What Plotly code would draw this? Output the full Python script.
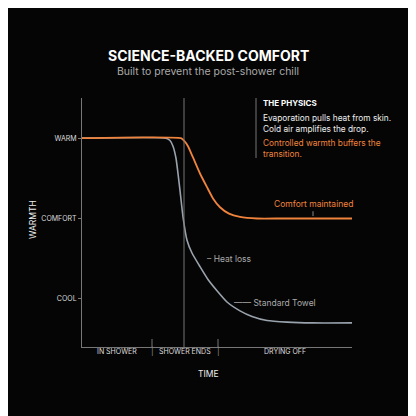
import plotly.graph_objects as go

towel_x = [0, 84, 88, 91, 94, 96, 98, 101, 105, 110, 118, 126, 135, 145, 158, 170, 185, 205, 230, 270]
towel_y = [3, 3, 2.97, 2.9, 2.75, 2.56, 2.35, 2.02, 1.73, 1.57, 1.40, 1.24, 1.1, 0.96, 0.85, 0.78, 0.73, 0.71, 0.7, 0.7]
warm_x = [0, 99, 102, 106, 111, 118, 125, 131, 138, 147, 158, 175, 200, 270]
warm_y = [3, 3, 2.97, 2.9, 2.76, 2.56, 2.39, 2.25, 2.14, 2.06, 2.02, 2.0, 2.0, 2.0]
ytick_vals = [1, 2, 3]
ytick_text = ["COOL", "COMFORT", "WARM"]
phases = ["IN SHOWER", "SHOWER ENDS", "DRYING OFF"]
phase_x = [35, 103, 203]
sep_x = [70, 136]
shower_end = 102

ORANGE = "#f0843c"
GRAY = "#9aa3ad"
F = "Inter"
L, T, PW, PH = 74, 90, 270, 249  # compensate page offset

fig = go.Figure()
fig.add_trace(go.Scatter(x=towel_x, y=towel_y, mode="lines", line=dict(color=GRAY, width=1.6, shape="spline", smoothing=0.5), hoverinfo="skip"))
fig.add_trace(go.Scatter(x=warm_x, y=warm_y, mode="lines", line=dict(color=ORANGE, width=1.8, shape="spline", smoothing=0.5), hoverinfo="skip"))

fig.add_shape(type="line", x0=shower_end, x1=shower_end, y0=0.4, y1=3.5, line=dict(color="#777", width=1))
for s in sep_x:
    fig.add_shape(type="line", x0=s, x1=s, y0=0.4, y1=0.5, line=dict(color="#777", width=1))
for v in [1.5, 2.5]:
    fig.add_shape(type="line", x0=-2, x1=0, y0=v, y1=v, line=dict(color="#777", width=1))

def py(y):
    return (347 - y) / PH

ann = []
for t, x in zip(phases, phase_x):
    ann.append(dict(x=x, yref="paper", y=py(358), text=t, showarrow=False, font=dict(family=F, size=7, color="#ddd")))
for s in sep_x:
    ann.append(dict(x=s, yref="paper", y=py(358), text="|", showarrow=False, font=dict(family=F, size=8, color="#888")))
ann += [
    dict(x=231, y=2.18, text="Comfort maintained", showarrow=False, font=dict(family=F, size=8.5, color=ORANGE)),
    dict(x=123, y=1.5, text="– Heat loss", xanchor="left", showarrow=False, font=dict(family=F, size=8.5, color="#aaa")),
    dict(x=150, y=0.95, text="—— Standard Towel", xanchor="left", showarrow=False, font=dict(family=F, size=8.5, color="#aaa")),
]
fig.add_shape(type="line", x0=231, x1=231, y0=2.03, y1=2.09, line=dict(color="#888", width=1))

fig.add_shape(type="line", xref="paper", yref="paper", x0=(256-82)/PW, x1=(256-82)/PW, y0=py(158), y1=1, line=dict(color="#777", width=1))
def pt(x, y, text, color, size=8.5, bold=False):
    ann.append(dict(xref="paper", yref="paper", x=(x-82)/PW, y=py(y), text=f"<b>{text}</b>" if bold else text,
                    xanchor="left", yanchor="middle", showarrow=False, font=dict(family=F, size=size, color=color)))
pt(261, 103, "THE PHYSICS", "#fff", 8, True)
pt(261, 118, "Evaporation pulls heat from skin.", "#eee", 8.3)
pt(261, 129, "Cold air amplifies the drop.", "#eee", 8.3)
pt(261, 143, "Controlled warmth buffers the", ORANGE, 8.3)
pt(261, 154, "transition.", ORANGE, 8.3)

ann += [
    dict(xref="paper", yref="paper", x=(208-82)/PW, y=py(45), text="<b>SCIENCE-BACKED COMFORT</b>", showarrow=False, font=dict(family=F, size=14, color="#fff")),
    dict(xref="paper", yref="paper", x=(208-82)/PW, y=py(63), text="Built to prevent the post-shower chill", showarrow=False, font=dict(family=F, size=10.5, color="#aaa")),
    dict(xref="paper", yref="paper", x=(208-82)/PW, y=py(381), text="TIME", showarrow=False, font=dict(family=F, size=8.5, color="#eee")),
    dict(xref="paper", yref="paper", x=(26-82)/PW, y=py(220), text="WARMTH", textangle=-90, showarrow=False, font=dict(family=F, size=8.5, color="#eee")),
]

fig.update_layout(
    width=416, height=416, margin=dict(l=L, r=416-L-PW, t=T, b=416-T-PH),
    paper_bgcolor="#050505", plot_bgcolor="#050505", showlegend=False, annotations=ann,
    xaxis=dict(range=[0, 270], showgrid=False, zeroline=False, showticklabels=False, showline=True, linecolor="#777"),
    yaxis=dict(range=[0.4, 3.5], showgrid=False, zeroline=False, showline=True, linecolor="#777",
               tickvals=ytick_vals, ticktext=ytick_text, ticks="outside", ticklen=3, tickcolor="#777",
               tickfont=dict(family=F, size=7, color="#ddd")),
)
fig.write_html("out.html")
